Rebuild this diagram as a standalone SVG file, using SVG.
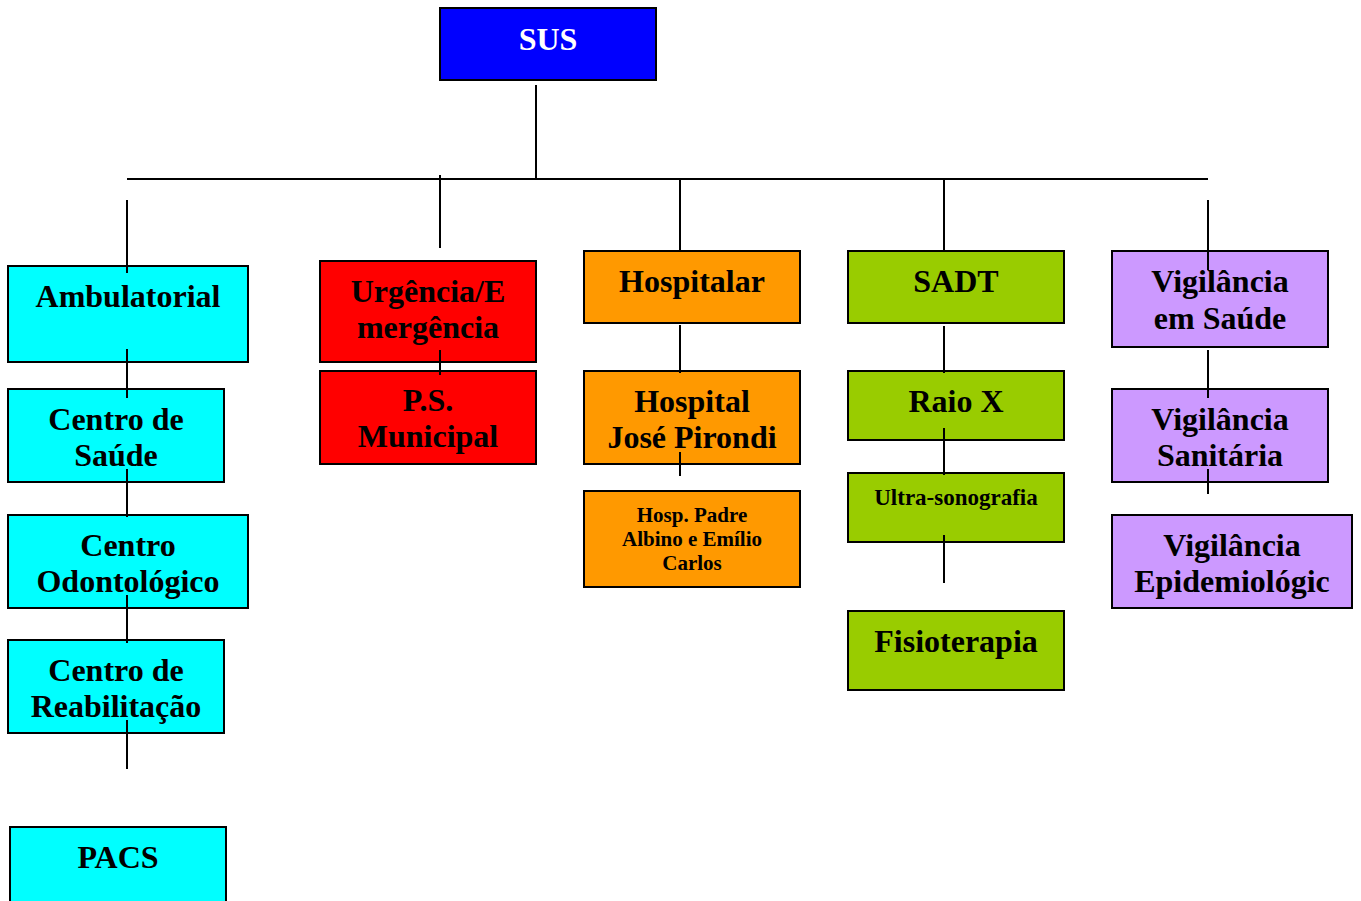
<svg xmlns="http://www.w3.org/2000/svg" width="1361" height="901" viewBox="0 0 1361 901">
<style>
rect{stroke:#000;stroke-width:2}
text{font-family:"Liberation Serif","Times New Roman",serif;font-weight:bold;font-size:32px;text-anchor:middle;fill:#000}
.s{font-size:21px}
.u{font-size:23px}
.w{fill:#fff}
.cy{fill:#00ffff}.rd{fill:#ff0000}.or{fill:#ff9900}.gr{fill:#99cc00}.pu{fill:#cc99ff}.bl{fill:#0000ff}
#connectors line{stroke:#000;stroke-width:2}
</style>
<rect x="0" y="0" width="1361" height="901" fill="#fff" style="stroke:none"/>
<g id="sus"><rect class="bl" x="440" y="8" width="216" height="72"/><text class="w" x="548" y="50">SUS</text></g>
<g id="ambulatorial"><rect class="cy" x="8" y="266" width="240" height="96"/><text x="128" y="307">Ambulatorial</text></g>
<g id="centro-saude"><rect class="cy" x="8" y="389" width="216" height="93"/><text x="116" y="430">Centro de</text><text x="116" y="466">Saúde</text></g>
<g id="centro-odonto"><rect class="cy" x="8" y="515" width="240" height="93"/><text x="128" y="556">Centro</text><text x="128" y="592">Odontológico</text></g>
<g id="centro-reab"><rect class="cy" x="8" y="640" width="216" height="93"/><text x="116" y="681">Centro de</text><text x="116" y="717">Reabilitação</text></g>
<g id="pacs"><rect class="cy" x="10" y="827" width="216" height="90"/><text x="118" y="868">PACS</text></g>
<g id="urgencia"><rect class="rd" x="320" y="261" width="216" height="101"/><text x="428" y="302">Urgência/E</text><text x="428" y="338">mergência</text></g>
<g id="ps-municipal"><rect class="rd" x="320" y="371" width="216" height="93"/><text x="428" y="411">P.S.</text><text x="428" y="447">Municipal</text></g>
<g id="hospitalar"><rect class="or" x="584" y="251" width="216" height="72"/><text x="692" y="292">Hospitalar</text></g>
<g id="hospital-pirondi"><rect class="or" x="584" y="371" width="216" height="93"/><text x="692" y="412">Hospital</text><text x="692" y="448">José Pirondi</text></g>
<g id="hosp-padre"><rect class="or" x="584" y="491" width="216" height="96"/><text class="s" x="692" y="522">Hosp. Padre</text><text class="s" x="692" y="546">Albino e Emílio</text><text class="s" x="692" y="570">Carlos</text></g>
<g id="sadt"><rect class="gr" x="848" y="251" width="216" height="72"/><text x="956" y="292">SADT</text></g>
<g id="raio-x"><rect class="gr" x="848" y="371" width="216" height="69"/><text x="956" y="412">Raio X</text></g>
<g id="ultra"><rect class="gr" x="848" y="473" width="216" height="69"/><text class="u" x="956" y="505">Ultra-sonografia</text></g>
<g id="fisio"><rect class="gr" x="848" y="611" width="216" height="79"/><text x="956" y="652">Fisioterapia</text></g>
<g id="vig-saude"><rect class="pu" x="1112" y="251" width="216" height="96"/><text x="1220" y="292">Vigilância</text><text x="1220" y="329">em Saúde</text></g>
<g id="vig-sanitaria"><rect class="pu" x="1112" y="389" width="216" height="93"/><text x="1220" y="430">Vigilância</text><text x="1220" y="466">Sanitária</text></g>
<g id="vig-epi"><rect class="pu" x="1112" y="515" width="240" height="93"/><text x="1232" y="556">Vigilância</text><text x="1232" y="592">Epidemiológic</text></g>
<g id="connectors">
<line x1="536" y1="85" x2="536" y2="179"/>
<line x1="127" y1="179" x2="1208" y2="179"/>
<line x1="127" y1="200" x2="127" y2="273"/>
<line x1="127" y1="349" x2="127" y2="398"/>
<line x1="127" y1="469" x2="127" y2="517"/>
<line x1="127" y1="595" x2="127" y2="643"/>
<line x1="127" y1="720" x2="127" y2="769"/>
<line x1="440" y1="175" x2="440" y2="248"/>
<line x1="440" y1="350" x2="440" y2="375"/>
<line x1="680" y1="179" x2="680" y2="251"/>
<line x1="680" y1="325" x2="680" y2="373"/>
<line x1="680" y1="452" x2="680" y2="476"/>
<line x1="944" y1="179" x2="944" y2="251"/>
<line x1="944" y1="326" x2="944" y2="373"/>
<line x1="944" y1="428" x2="944" y2="475"/>
<line x1="944" y1="535" x2="944" y2="583"/>
<line x1="1208" y1="200" x2="1208" y2="270"/>
<line x1="1208" y1="350" x2="1208" y2="398"/>
<line x1="1208" y1="469" x2="1208" y2="494"/>
</g>
</svg>
